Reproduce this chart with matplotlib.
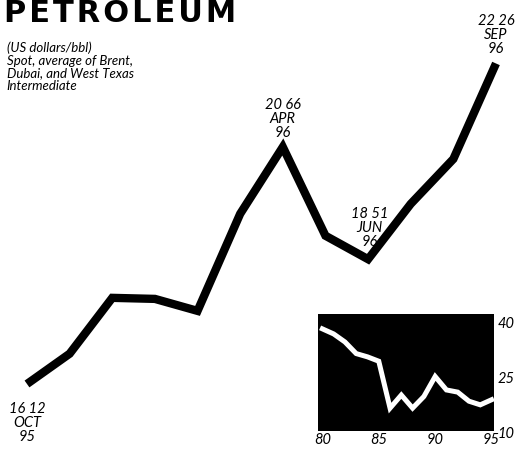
import matplotlib

matplotlib.use("Agg")

import matplotlib.pyplot as plt

# monthly spot price, Oct 95 .. Sep 96
months = ["OCT", "NOV", "DEC", "JAN", "FEB", "MAR", "APR", "MAY", "JUN", "JUL", "AUG", "SEP"]
years = ["95", "95", "95", "96", "96", "96", "96", "96", "96", "96", "96", "96"]
prices = [16.12, 16.70, 17.77, 17.75, 17.52, 19.38, 20.66, 18.96, 18.51, 19.57, 20.43, 22.26]
labelled = {0: "16 12", 6: "20 66", 8: "18 51", 11: "22 26"}

# annual history for the inset
hist_years = list(range(80, 96))
hist_prices = [38.1, 36.7, 34.5, 31.3, 30.4, 29.2, 16.3, 19.9, 16.3, 19.5,
               25.0, 21.3, 20.7, 18.2, 17.2, 18.6]

FONT = "Lato"

fig = plt.figure(figsize=(5.16, 4.52), dpi=100)
fig.patch.set_facecolor("white")

ax = fig.add_axes([0, 0, 1, 1])
ax.plot(range(len(prices)), prices, color="black", linewidth=6,
        solid_joinstyle="miter", solid_capstyle="butt")
ax.set_xlim(-0.633, 11.469)
ax.set_ylim(14.836, 23.495)
ax.axis("off")

for i, lab in labelled.items():
    txt = f"{lab}\n{months[i]}\n{years[i]}"
    kw = dict(textcoords="offset points", ha="center", fontsize=10.5,
              style="italic", family=FONT, linespacing=1.0)
    if i == 0:
        ax.annotate(txt, (i, prices[i]), xytext=(0, -12), va="top", **kw)
    elif i == 8:
        ax.annotate(txt, (i, prices[i]), xytext=(1, 8), va="bottom", **kw)
    else:
        ax.annotate(txt, (i, prices[i]), xytext=(0, 6), va="bottom", **kw)

# letter-spaced title (hair spaces between the letters)
fig.text(4 / 516, 0.951, "\u200a".join("PETROLEUM"), fontsize=22, fontweight="bold",
         family="DejaVu Sans", ha="left", va="baseline")
fig.text(0.013, 0.908,
         "(US dollars/bbl)\nSpot, average of Brent,\nDubai, and West Texas\nIntermediate",
         fontsize=9.5, style="italic", family=FONT, ha="left", va="top", linespacing=1.05)

ins = fig.add_axes([0.616, 0.0442, 0.341, 0.259])
ins.set_facecolor("black")
ins.plot(hist_years, hist_prices, color="white", linewidth=3.6, solid_joinstyle="miter")
ins.set_xlim(79.6, 95.2)
ins.set_ylim(10.3, 42.2)
ins.set_xticks([80, 85, 90, 95])
ins.set_yticks([10, 25, 40])
ins.yaxis.tick_right()
ins.tick_params(length=0, labelsize=10.5)
ins.tick_params(axis="x", pad=1)
ins.tick_params(axis="y", pad=3)
for t in ins.get_xticklabels() + ins.get_yticklabels():
    t.set_fontstyle("italic")
    t.set_family(FONT)
for s in ins.spines.values():
    s.set_visible(False)

fig.savefig("out.png", dpi=100, facecolor="white")
